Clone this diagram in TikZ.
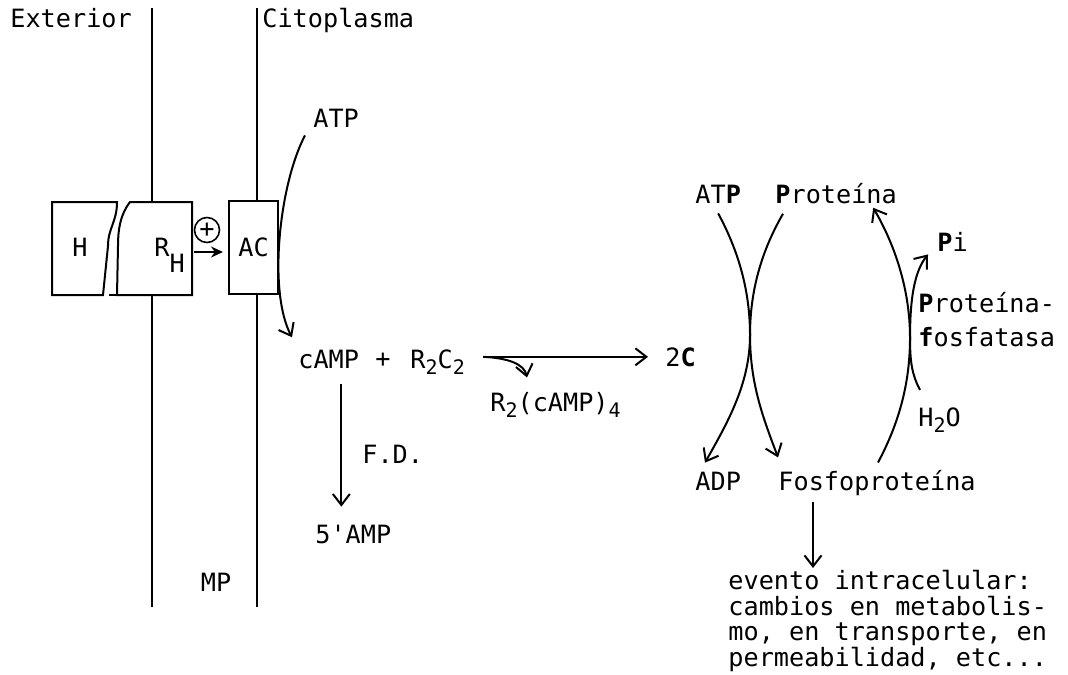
\documentclass[tikz,border=0pt]{standalone}
\usepackage{fontspec}
\setmainfont{DejaVu Sans Mono}
\usetikzlibrary{arrows.meta,calc}
\newcommand{\sub}[1]{\raisebox{-0.25em}{\fontsize{10}{10}\selectfont #1}}
\begin{document}
\begin{tikzpicture}[x=0.5pt, y=-0.5pt, font=\fontsize{12.6}{12.8}\selectfont,
  txt/.style={inner sep=0pt, anchor=base west},
  rxn/.style={line width=1pt, -{Straight Barb[length=5.5pt,width=8.5pt,line width=1pt]}},
  memb/.style={line width=1.1pt}]
  \useasboundingbox (0,0) rectangle (1068,674);
  % membrana
  \draw[memb] (152,8) -- (152,607);
  \draw[memb] (257,8) -- (257,607);
  \node[txt] (ext) at (10,28) {Exterior};
  \node[txt] (cito) at (262,28) {Citoplasma};
  \node (mp) at (216,582) {MP};
  % hormona y receptor
  \draw[line width=1pt, fill=white] (52,202) -- (117,202) .. controls (117,222) and (108,228) .. (108,246) -- (103,295) -- (52,295) -- cycle;
  \draw[line width=1pt, fill=white] (192,202) -- (130,202) .. controls (120,215) and (118,230) .. (118,246) -- (117,295) -- (192,295) -- cycle;
  \draw[line width=1pt] (109,295) -- (117,295);
  \node (hh) at (80,247) {H};
  \node[txt] (rh) at (154,256) {R\raisebox{-8pt}{H}};
  \node[draw, circle, line width=0.8pt, minimum size=12.5pt, inner sep=0pt] (act) at (207,230) {+};
  \node[draw, line width=1pt, fill=white, minimum width=24.5pt, minimum height=46.5pt] (ac) at (253.5,247.5) {AC};
  \coordinate (rhE) at (194,252);
  \draw[line width=1.3pt, -{Stealth[length=6pt,width=5.5pt]}] (rhE) -- ($(ac.west |- rhE)+(-5,0)$);
  % cAMP
  \node[txt] (atpa) at (313,127) {ATP};
  \node[txt] (camp) at (298,368) {cAMP};
  \node (mas) at (383,360) {+};
  \node[txt] (rc) at (410,368) {R\sub{2}C\sub{2}};
  \node[txt] (dosc) at (665,366) {2\textbf{C}};
  \node[txt] (rcamp) at (490,411) {R\sub{2}(cAMP)\sub{4}};
  \node[txt] (fd) at (362,463) {F.D.};
  \node[txt] (amp) at (315,543) {5\textquotesingle AMP};
  \draw[rxn] ($(atpa.south west)+(-8,8)$) .. controls (279,185) and (268,292) .. ($(camp.north west)+(-6,-12)$);
  \draw[rxn] ($(camp.south)+(12.6,15)$) -- ($(camp.south |- amp.north)+(12.6,-17.6)$);
  \coordinate (rcs) at ($(rc.east |- dosc.west)+(18,0)$);
  \draw[rxn] (rcs) -- ($(dosc.west)+(-17,0)$);
  \draw[rxn] (rcs) .. controls (508,358) and (524,364) .. ($(rcamp.north west)+(37,-14)$);
  % fosforilacion
  \node[txt] (atpb) at (695,203) {AT\textbf{P}};
  \node[txt] (prot) at (775,203) {\textbf{P}roteína};
  \node[txt] (pi) at (937,251) {\textbf{P}i};
  \node[txt, align=left, anchor=north west] (fosfa) at (918,292) {\textbf{P}roteína-\\[4pt]\textbf{f}osfatasa};
  \node[txt] (agua) at (918,426) {H\sub{2}O};
  \node[txt] (adp) at (695,490) {ADP};
  \node[txt] (fosfo) at (778,490) {Fosfoproteína};
  \node[txt, align=left, anchor=north west] (evento) at (728,570) {evento intracelular:\\cambios en metabolis-\\mo, en transporte, en\\permeabilidad, etc...};
  \draw[rxn] ($(atpb.south)+(0,10)$) .. controls (738,250) and (750,290) .. (750,335) .. controls (750,385) and (764,420) .. ($(fosfo.north west)+(0,-12)$);
  \draw[rxn] ($(prot.south west)+(8,10)$) .. controls (762,250) and (750,290) .. (750,335) .. controls (750,385) and (726,425) .. ($(adp.north west)+(10,-8.6)$);
  \draw[rxn] ($(fosfo.north)+(1,-7)$) .. controls (898,425) and (910,385) .. (910,338) .. controls (910,285) and (892,240) .. ($(prot.south east)+(-24,4)$);
  \draw[rxn] ($(agua.north west)+(2,-17)$) .. controls (912,375) and (910,362) .. (910,338) .. controls (910,300) and (914,272) .. ($(pi.south west)+(-9,3)$);
  \draw[rxn] ($(fosfo.south west)+(35,6)$) -- ($(fosfo.south west |- evento.north)+(35,-2)$);
\end{tikzpicture}
\end{document}
